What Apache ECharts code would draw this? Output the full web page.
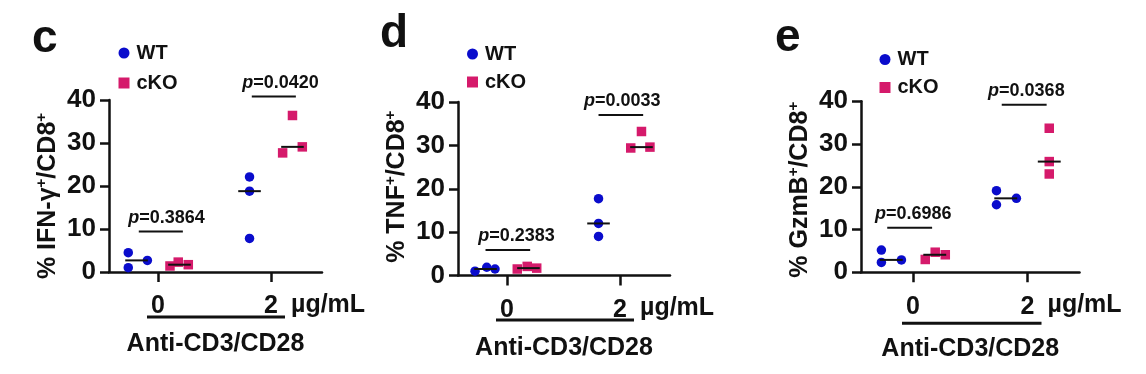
<!DOCTYPE html>
<html><head><meta charset="utf-8">
<script src="https://cdn.jsdelivr.net/npm/echarts@6/dist/echarts.min.js"></script>
<style>html,body{margin:0;padding:0;background:#fff}#chart{width:1146px;height:374px}</style>
</head><body><div id="chart"></div>
<script>
// ---------------- DATA ----------------
const doses = ['0', '2'];
const doseUnit = 'µg/mL';
const stimLabel = 'Anti-CD3/CD28';
const groups = ['WT', 'cKO'];
const panelLetters = ['c', 'd', 'e'];
// y titles split as [text, sup, text, sup]
const ifngTitle = ['% IFN-γ', '+', '/CD8', '+'];
const tnfTitle = ['% TNF', '+', '/CD8', '+'];
const gzmbTitle = ['% GzmB', '+', '/CD8', '+'];
const yTickValues = [0, 10, 20, 30, 40];

// values per dose: [dose 0 replicates], [dose 2 replicates]
const ifngWT = [[4.5, 1.0, 2.7], [22.1, 18.8, 7.8]];
const ifngKO = [[1.4, 2.3, 1.7], [36.4, 27.7, 29.1]];
const tnfWT = [[1.0, 1.9, 1.5], [17.7, 12.0, 9.0]];
const tnfKO = [[1.5, 2.1, 1.7], [33.2, 29.4, 29.6]];
const gzmbWT = [[5.2, 2.3, 2.9], [19.1, 15.8, 17.3]];
const gzmbKO = [[3.0, 4.7, 4.1], [33.7, 25.9, 23.0]];

const ifngP = ['0.3864', '0.0420'];
const tnfP = ['0.2383', '0.0033'];
const gzmbP = ['0.6986', '0.0368'];

// ---------------- LAYOUT (positions / styles) ----------------
const FONT = 'Liberation Sans, Arial, Helvetica, sans-serif';
const INK = '#111111';
const COLORS = { WT: '#0a0ccc', cKO: '#d51a6b' };
const SYMBOLS = { WT: 'circle', cKO: 'rect' };
const GROUP_OFFSET = { WT: -0.19, cKO: 0.19 };
// horizontal jitter of each replicate around its group centre (axis units)
const ifngJitWT = [[-0.073, -0.073, 0.096], [0, 0, 0]];
const ifngJitKO = [[-0.084, -0.011, 0.078], [0, -0.087, 0.087]];
const tnfJitWT = [[-0.093, 0.011, 0.084], [0, 0, 0]];
const tnfJitKO = [[-0.099, -0.011, 0.073], [0, -0.095, 0.075]];
const gzmbJitWT = [[-0.086, -0.086, 0.089], [-0.081, -0.081, 0.093]];
const gzmbJitKO = [[-0.083, 0.004, 0.092], [0, 0, 0]];
// bracket heights (axis units)
const ifngBracketY = [9.4, 40.8];
const tnfBracketY = [5.9, 37.0];
const gzmbBracketY = [10.4, 39.2];

const panels = [
  { letter: panelLetters[0], title: ifngTitle, wt: ifngWT, ko: ifngKO, jwt: ifngJitWT, jko: ifngJitKO, p: ifngP, by: ifngBracketY,
    grid: { left: 109, top: 100, width: 213, height: 172 }, xmin: -0.4336, xmax: 1.4513,
    legend: { left: 118.5, top: 43, gap: 10 }, letterPos: { left: 32, top: 16 }, under: 45, nameGap: 60,
    bracket: [-0.17, 0.22], textDx: [0.075, 0.084], titlePad: [0, 20, 0, 0] },
  { letter: panelLetters[1], title: tnfTitle, wt: tnfWT, ko: tnfKO, jwt: tnfJitWT, jko: tnfJitKO, p: tnfP, by: tnfBracketY,
    grid: { left: 458, top: 102, width: 212, height: 173.5 }, xmin: -0.4336, xmax: 1.4425,
    legend: { left: 467, top: 44, gap: 8 }, letterPos: { left: 380, top: 11 }, under: 44.5, nameGap: 60,
    bracket: [-0.19, 0.205], textDx: [0.084, 0.02], titlePad: [0, 0, 0, 4] },
  { letter: panelLetters[2], title: gzmbTitle, wt: gzmbWT, ko: gzmbKO, jwt: gzmbJitWT, jko: gzmbJitKO, p: gzmbP, by: gzmbBracketY,
    grid: { left: 861, top: 101.3, width: 218.5, height: 171 }, xmin: -0.4541, xmax: 1.4541,
    legend: { left: 879.5, top: 49.5, gap: 8 }, letterPos: { left: 775, top: 15 }, under: 51, nameGap: 64,
    bracket: [-0.225, 0.167], textDx: [0.003, -0.01], titlePad: [0, 6, 0, 0] }
];

function median(arr) { const s = arr.slice().sort((a, b) => a - b); return s[Math.floor(s.length / 2)]; }

const chart = echarts.init(document.getElementById('chart'), null, { renderer: 'canvas' });
const option = {
  animation: false,
  backgroundColor: '#ffffff',
  title: [], grid: [], xAxis: [], yAxis: [], legend: [], series: []
};

panels.forEach((pn, k) => {
  option.title.push({ text: pn.letter, left: pn.letterPos.left, top: pn.letterPos.top, padding: 0,
    textStyle: { fontSize: 46, fontWeight: 'bold', color: INK, fontFamily: FONT } });
  option.grid.push(Object.assign({ containLabel: false }, pn.grid));
  option.xAxis.push({
    type: 'value', gridIndex: k, min: pn.xmin, max: pn.xmax,
    axisLine: { show: true, onZero: false, lineStyle: { color: INK, width: 2.5 } },
    axisTick: { show: true, customValues: [0, 1], length: 10, lineStyle: { color: INK, width: 2.5 } },
    axisLabel: { customValues: [0, 1], formatter: v => doses[Math.round(v)], fontSize: 25, fontWeight: 'bold', color: INK, fontFamily: FONT, margin: 22 },
    splitLine: { show: false },
    name: stimLabel, nameLocation: 'middle', nameGap: pn.nameGap,
    nameTextStyle: { fontSize: 25, fontWeight: 'bold', color: INK, fontFamily: FONT }
  });
  const t = pn.title;
  option.yAxis.push({
    type: 'value', gridIndex: k, min: 0, max: 40, interval: 10,
    axisLine: { show: true, onZero: false, lineStyle: { color: INK, width: 2.5 } },
    axisTick: { show: true, length: 9, lineStyle: { color: INK, width: 2.5 } },
    axisLabel: { fontSize: 26, fontWeight: 'bold', color: INK, fontFamily: FONT, margin: 13 },
    splitLine: { show: false },
    name: '{t|' + t[0] + '}{s|' + t[1] + '}{t|' + t[2] + '}{s|' + t[3] + '}',
    nameLocation: 'middle', nameGap: 47,
    nameTextStyle: { padding: pn.titlePad, rich: {
      t: { fontSize: 25, fontWeight: 'bold', color: INK, fontFamily: FONT, lineHeight: 28 },
      s: { fontSize: 15, fontWeight: 'bold', color: INK, fontFamily: FONT, verticalAlign: 'top', lineHeight: 28 }
    } }
  });
  option.legend.push({
    left: pn.legend.left, top: pn.legend.top, orient: 'vertical', padding: 0,
    itemWidth: 11, itemHeight: 11, itemGap: pn.legend.gap, selectedMode: false,
    data: groups,
    textStyle: { fontSize: 20, fontWeight: 'bold', color: INK, fontFamily: FONT, lineHeight: 20, padding: [0, 0, 0, 2] }
  });

  // scatter points
  const sets = { WT: [pn.wt, pn.jwt], cKO: [pn.ko, pn.jko] };
  const medData = [];
  groups.forEach(g => {
    const [vals, jit] = sets[g];
    const pts = [];
    vals.forEach((reps, di) => {
      reps.forEach((v, ri) => pts.push([di + GROUP_OFFSET[g] + jit[di][ri], v]));
      medData.push([di + GROUP_OFFSET[g], median(reps)]);
    });
    option.series.push({
      type: 'scatter', name: g, xAxisIndex: k, yAxisIndex: k, data: pts,
      symbol: SYMBOLS[g], symbolSize: 9.5, itemStyle: { color: COLORS[g], opacity: 1 }, z: 3
    });
  });
  // median lines
  option.series.push({
    type: 'custom', xAxisIndex: k, yAxisIndex: k, data: medData, z: 5, silent: true,
    renderItem: (params, api) => {
      const x = api.value(0), y = api.value(1);
      const a = api.coord([x - 0.1, y]), b = api.coord([x + 0.1, y]);
      return { type: 'line', shape: { x1: a[0], y1: a[1], x2: b[0], y2: b[1] }, style: { stroke: INK, lineWidth: 2 } };
    }
  });
  // p-value brackets
  option.series.push({
    type: 'custom', xAxisIndex: k, yAxisIndex: k, z: 5, silent: true, clip: false,
    data: doses.map((d, di) => [di, pn.by[di]]),
    renderItem: (params, api) => {
      const x = api.value(0), y = api.value(1);
      const a = api.coord([x + pn.bracket[0], y]), b = api.coord([x + pn.bracket[1], y]);
      const c = api.coord([x + pn.textDx[params.dataIndex], y]);
      return { type: 'group', children: [
        { type: 'line', shape: { x1: a[0], y1: a[1], x2: b[0], y2: b[1] }, style: { stroke: INK, lineWidth: 2 } },
        { type: 'text', x: c[0], y: a[1] - 14, style: {
            text: '{i|p}{n|=' + pn.p[params.dataIndex] + '}', align: 'center', verticalAlign: 'middle',
            rich: { i: { fontSize: 18, fontWeight: 'bold', fontStyle: 'italic', fill: INK, fontFamily: FONT },
                    n: { fontSize: 18, fontWeight: 'bold', fill: INK, fontFamily: FONT } } } }
      ] };
    }
  });
  // dose underline + unit
  option.series.push({
    type: 'custom', xAxisIndex: k, yAxisIndex: k, z: 5, silent: true, clip: false,
    data: [[0, 0]],
    renderItem: (params, api) => {
      const a = api.coord([0, 0]), b = api.coord([1, 0]);
      const uy = a[1] + pn.under;
      return { type: 'group', children: [
        { type: 'line', shape: { x1: a[0] - 11, y1: uy, x2: b[0] + 14, y2: uy }, style: { stroke: INK, lineWidth: 3 } },
        { type: 'text', x: b[0] + 20, y: a[1] + 33, style: { text: doseUnit, align: 'left', verticalAlign: 'middle',
            fontSize: 25, fontWeight: 'bold', fill: INK, fontFamily: FONT } }
      ] };
    }
  });
});

chart.setOption(option);
</script>
</body></html>
